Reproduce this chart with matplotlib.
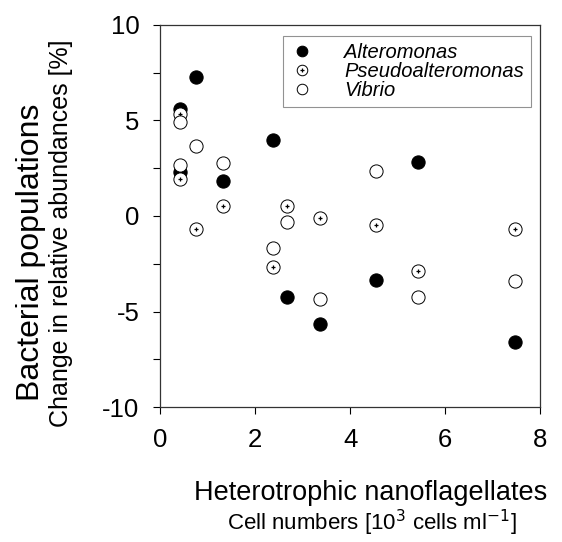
import matplotlib
matplotlib.use("Agg")
import matplotlib.pyplot as plt
from matplotlib.legend_handler import HandlerTuple

plt.rcParams['font.family'] = ['Liberation Sans', 'DejaVu Sans']
plt.rcParams['axes.unicode_minus'] = False

# cell numbers of heterotrophic nanoflagellates [10^3 cells/ml]
hnf = [0.42, 0.42, 0.755, 1.33, 2.38, 2.67, 3.365, 4.54, 5.43, 7.48]

# change in relative abundances [%]
alteromonas = [5.6, 2.29, 7.26, 1.85, 3.98, -4.26, -5.65, -3.35, 2.83, -6.58]
pseudoalteromonas = [5.32, 1.94, -0.68, 0.52, -2.65, 0.52, -0.09, -0.47, -2.88, -0.68]
vibrio = [4.9, 2.67, 3.68, 2.79, -1.66, -0.3, -4.35, 2.37, -4.26, -3.39]

fig = plt.figure(figsize=(5.62, 5.42), dpi=100)
ax = fig.add_axes([0.285, 0.249, 0.676, 0.705])

ms = 9.5
h_alt, = ax.plot(hnf, alteromonas, 'o', ms=ms, mfc='black', mec='black', mew=0.8)
h_ps, = ax.plot(hnf, pseudoalteromonas, 'o', ms=ms, mfc='white', mec='black', mew=0.7)
h_plus, = ax.plot(hnf, pseudoalteromonas, '+', ms=3.5, color='black', mew=0.9)
h_vib, = ax.plot(hnf, vibrio, 'o', ms=ms, mfc='white', mec='black', mew=0.7)

ax.set_xlim(0, 8)
ax.set_ylim(-10, 10)
ax.set_xticks([0, 2, 4, 6, 8])
ax.set_yticks([-10, -5, 0, 5, 10])
ax.set_yticks([-7.5, -2.5, 2.5, 7.5], minor=True)
ax.tick_params(axis='both', which='both', direction='out', labelsize=18.5, width=0.8)
ax.tick_params(axis='both', which='major', length=5)
ax.tick_params(axis='y', which='minor', length=5)
ax.tick_params(axis='x', pad=10)
ax.tick_params(axis='y', pad=10)
for s in ax.spines.values():
    s.set_linewidth(0.9)
    s.set_color('#333333')

leg = ax.legend([h_alt, (h_ps, h_plus), h_vib],
                ['Alteromonas', 'Pseudoalteromonas', 'Vibrio'],
                handler_map={tuple: HandlerTuple(ndivide=1)},
                loc='upper right', bbox_to_anchor=(0.976, 0.972),
                prop={'style': 'italic', 'size': 14.5},
                frameon=True, fancybox=False, edgecolor='#777777',
                handlelength=1.2, handletextpad=1.5, borderpad=0.35,
                borderaxespad=0, labelspacing=0.0, markerscale=0.8)
leg.get_frame().set_linewidth(0.8)

# two-line axis titles
fig.text(0.055, 0.535, 'Bacterial populations', rotation=90, ha='center', va='center', fontsize=23)
fig.text(0.108, 0.57, 'Change in relative abundances [%]', rotation=90, ha='center', va='center', fontsize=18)
fig.text(0.66, 0.09, 'Heterotrophic nanoflagellates', ha='center', va='center', fontsize=19.5)
fig.text(0.662, 0.035, 'Cell numbers [10$^3$ cells ml$^{-1}$]', ha='center', va='center', fontsize=16)

fig.savefig('out.png', dpi=100)
